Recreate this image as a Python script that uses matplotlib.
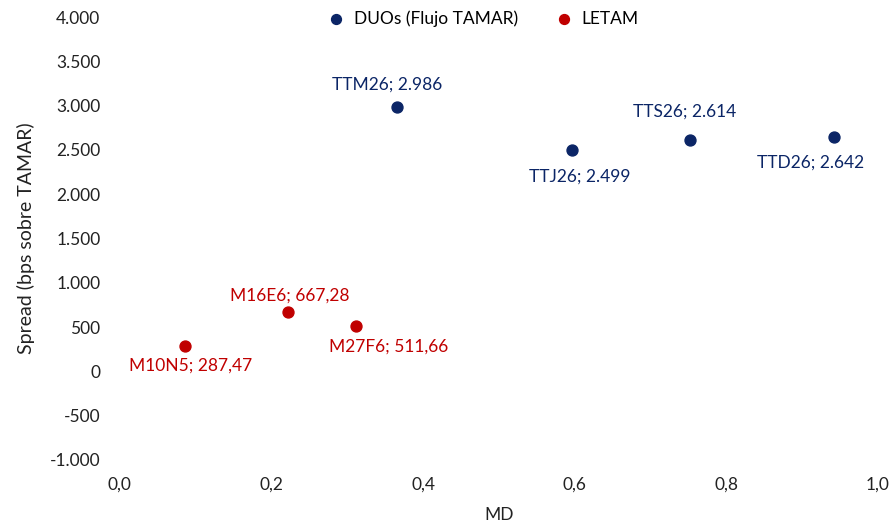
import matplotlib.pyplot as plt
from matplotlib.ticker import FuncFormatter

plt.rcParams['font.family'] = ['Lato', 'DejaVu Sans']

# DUOs (Flujo TAMAR)
duo_names = ['TTM26', 'TTJ26', 'TTS26', 'TTD26']
duo_md = [0.365, 0.596, 0.752, 0.942]
duo_spread = [2986, 2499, 2614, 2642]
duo_labels = ['2.986', '2.499', '2.614', '2.642']

# LETAM
let_names = ['M10N5', 'M16E6', 'M27F6']
let_md = [0.086, 0.222, 0.311]
let_spread = [287.47, 667.28, 511.66]
let_labels = ['287,47', '667,28', '511,66']

blue = '#0B2566'
red = '#C00000'
fs = 12.5

fig = plt.figure(figsize=(8.95, 5.26), dpi=100)
ax = fig.add_axes([0.134, 0.1255, 0.847, 0.842])

ax.scatter(duo_md, duo_spread, s=62, color=blue, label='DUOs (Flujo TAMAR)', zorder=3)
ax.scatter(let_md, let_spread, s=62, color=red, label='LETAM', zorder=3)

# label offsets in pixels (dx, dy)
duo_off = [(-9, 22), (8, -27), (-5, 28), (-23, -25)]
let_off = [(6, -20), (2, 17), (33, -21)]

for n, x, y, lab, off in zip(duo_names, duo_md, duo_spread, duo_labels, duo_off):
    ax.annotate(f'{n}; {lab}', (x, y), xytext=off, textcoords='offset pixels',
                ha='center', va='center', color=blue, fontsize=fs)
for n, x, y, lab, off in zip(let_names, let_md, let_spread, let_labels, let_off):
    ax.annotate(f'{n}; {lab}', (x, y), xytext=off, textcoords='offset pixels',
                ha='center', va='center', color=red, fontsize=fs)

ax.set_xlim(0, 1)
ax.set_ylim(-1000, 4000)
ax.set_xticks([0, 0.2, 0.4, 0.6, 0.8, 1.0])
ax.set_yticks(range(-1000, 4001, 500))
ax.xaxis.set_major_formatter(FuncFormatter(lambda v, p: f'{v:.1f}'.replace('.', ',')))
ax.yaxis.set_major_formatter(FuncFormatter(lambda v, p: f'{v:,.0f}'.replace(',', '.')))
for s in ax.spines.values():
    s.set_visible(False)
ax.tick_params(length=0, labelsize=fs, colors='#222222')
ax.tick_params(axis='y', pad=14)
ax.tick_params(axis='x', pad=12)
ax.set_xlabel('MD', fontsize=fs, color='#222222', labelpad=10)
ax.set_ylabel('Spread (bps sobre TAMAR)', fontsize=14, color='#222222', labelpad=11)

fig.legend(loc='center', bbox_to_anchor=(0.535, 0.965), ncol=2, frameon=False,
           fontsize=fs, handletextpad=0.05, columnspacing=1.6, markerscale=0.9)

fig.savefig('out.png', dpi=100)
